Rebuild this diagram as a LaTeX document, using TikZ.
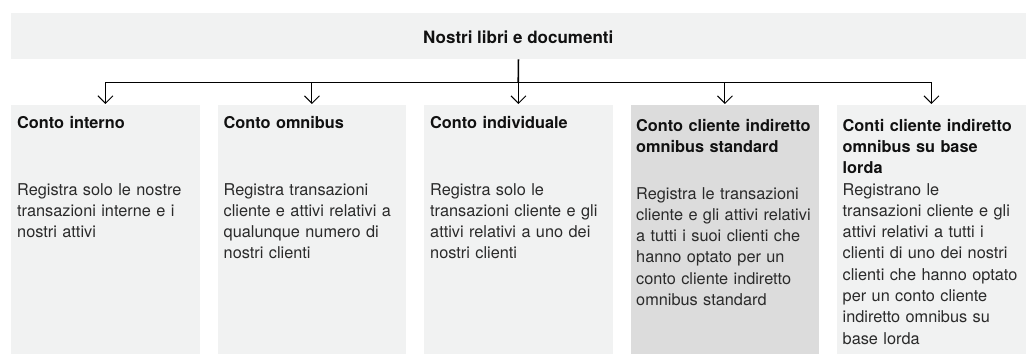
\documentclass[tikz,border=0pt]{standalone}
\usepackage{fontspec}
\setmainfont{TeX Gyre Heros}
\usetikzlibrary{arrows.meta}
\definecolor{boxgray}{HTML}{F1F2F2}
\definecolor{boxdark}{HTML}{DCDCDC}
\definecolor{ink}{HTML}{111111}
\definecolor{bodyink}{HTML}{2A2A2A}
\begin{document}
\begin{tikzpicture}[x=1pt,y=-1pt,
  panel/.style={fill=boxgray, draw=none, inner sep=0pt, anchor=north west,
    minimum width=188.5pt, minimum height=249pt},
  titlebox/.style={fill=boxgray, draw=none, inner sep=0pt, anchor=north west,
    minimum width=1014.5pt, minimum height=46pt},
  head/.style={anchor=base west, inner sep=0pt, text width=184pt, align=left,
    text=ink, font=\fontsize{16.3}{21.3}\selectfont\bfseries},
  body/.style={anchor=base west, inner sep=0pt, text width=184pt, align=left,
    text=bodyink, font=\fontsize{16.3}{21.3}\selectfont},
  conn/.style={line width=1pt, -{Straight Barb[length=7.5pt,width=15pt]}, shorten >=1pt},
]
\useasboundingbox (0,0) rectangle (1027,354);

% title box
\node[titlebox] (top) at (11,13) {};
\node[anchor=base, inner sep=0pt, text=ink, font=\fontsize{17}{20}\selectfont\bfseries]
  (title) at (518.25,43.3) {Nostri libri e documenti};

% panels
\node[panel] (b1) at (11,105) {};
\node[panel] (b2) at (217.5,105) {};
\node[panel] (b3) at (424,105) {};
\node[panel, fill=boxdark] (b4) at (630.5,105) {};
\node[panel] (b5) at (837,105) {};

% headings
\node[head] (h1) at ([shift={(6,23.3)}]b1.north west) {Conto interno};
\node[head] (h2) at ([shift={(6,23.3)}]b2.north west) {Conto omnibus};
\node[head] (h3) at ([shift={(6,23.3)}]b3.north west) {Conto individuale};
\node[head] (h4) at ([shift={(5.5,26)}]b4.north west) {Conto cliente indiretto\\omnibus standard};
\node[head] (h5) at ([shift={(5.5,26)}]b5.north west) {Conti cliente indiretto\\omnibus su base\\lorda};

% bodies
\node[body] (t1) at ([shift={(6,90)}]b1.north west)
  {Registra solo le nostre\\transazioni interne e i\\nostri attivi};
\node[body] (t2) at ([shift={(6,90)}]b2.north west)
  {Registra transazioni\\cliente e attivi relativi a\\qualunque numero di\\nostri clienti};
\node[body] (t3) at ([shift={(6,90)}]b3.north west)
  {Registra solo le\\transazioni cliente e gli\\attivi relativi a uno dei\\nostri clienti};
\node[body] (t4) at ([shift={(5.5,94)}]b4.north west)
  {Registra le transazioni\\cliente e gli attivi relativi\\a tutti i suoi clienti che\\hanno optato per un\\conto cliente indiretto\\omnibus standard};
\node[body] (t5) at ([shift={(5.5,90)}]b5.north west)
  {Registrano le\\transazioni cliente e gli\\attivi relativi a tutti i\\clienti di uno dei nostri\\clienti che hanno optato\\per un conto cliente\\indiretto omnibus su\\base lorda};

% connectors
\coordinate (hub) at (518.25,82);
\draw[line width=1.6pt] (top.south) -- (hub);
\foreach \i in {1,...,5} {
  \draw[conn] (hub) -| (b\i.north);
}
\end{tikzpicture}
\end{document}
